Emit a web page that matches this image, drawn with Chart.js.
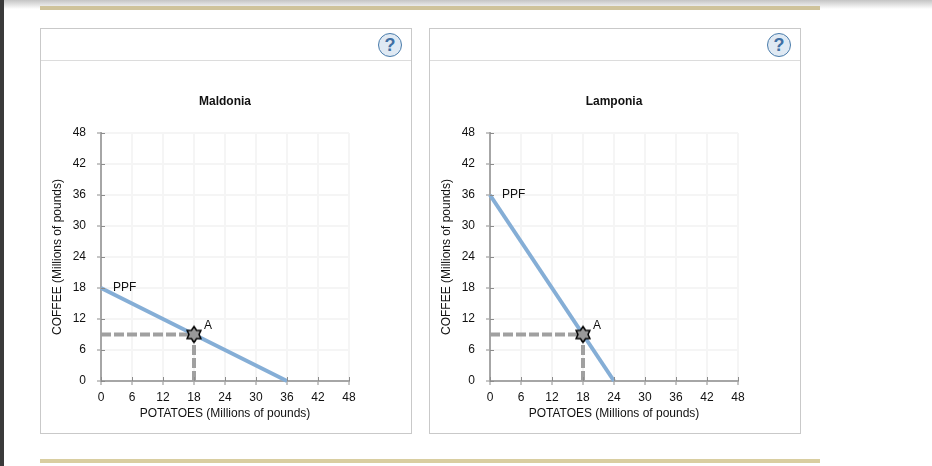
<!DOCTYPE html>
<html>
<head>
<meta charset="utf-8">
<title>PPF</title>
<script src="https://cdn.jsdelivr.net/npm/chart.js@4/dist/chart.umd.min.js"></script>
<style>
  html, body { margin: 0; padding: 0; background: #fff; width: 932px; height: 466px; overflow: hidden; font-family: "Liberation Sans", Arial, sans-serif; }
  .shade { position: absolute; left: 0; top: 0; width: 932px; height: 9px; background: linear-gradient(#c4c4c4, #fff); }
  .edge { position: absolute; left: 0; top: 0; width: 4px; height: 466px; background: #3a3a3a; }
  .rule { position: absolute; left: 40px; width: 780px; height: 4px; }
  .panel { position: absolute; top: 28px; width: 370px; height: 404px; border: 1px solid #c9c9c9; box-sizing: content-box; }
  .head { position: absolute; left: 0; top: 0; width: 370px; height: 31px; border-bottom: 1px solid #dcdcdc; }
  .help { position: absolute; left: 337px; top: 4px; width: 22px; height: 22px; border: 1px solid #4a7cab; border-radius: 50%; background: #dfe9f3; color: #3f6fa3; font: bold 18px/22px "Liberation Sans", Arial, sans-serif; text-align: center; }
  .panel canvas { position: absolute; left: 0; top: 32px; }
</style>
</head>
<body>
<div class="shade"></div>
<div class="edge"></div>
<div class="rule" style="top:6px;background:#cfc39b"></div>
<div class="rule" style="top:459px;background:#d9cea1"></div>

<div class="panel" style="left:40px">
  <div class="head"><div class="help">?</div></div>
  <canvas id="maldonia" width="370" height="372"></canvas>
</div>
<div class="panel" style="left:429px">
  <div class="head"><div class="help">?</div></div>
  <canvas id="lamponia" width="370" height="372"></canvas>
</div>

<script>
const axisTicks = [0, 6, 12, 18, 24, 30, 36, 42, 48];
const xTitle = 'POTATOES (Millions of pounds)';
const yTitle = 'COFFEE (Millions of pounds)';

const maldoniaPPF = [{ x: 0, y: 18 }, { x: 36, y: 0 }];
const lamponiaPPF = [{ x: 0, y: 36 }, { x: 24, y: 0 }];
const pointA = [{ x: 18, y: 9 }];
const dashToY = [{ x: 0, y: 9 }, { x: 18, y: 9 }];
const dashToX = [{ x: 18, y: 0 }, { x: 18, y: 9 }];

const fontFamily = '"Liberation Sans", Arial, sans-serif';
const axisGray = '#a6a6a6';

// six pointed star, chart.js has no filled one
function makeStar() {
  const c = document.createElement('canvas');
  c.width = 22;
  c.height = 22;
  const g = c.getContext('2d');
  g.beginPath();
  for (let i = 0; i < 12; i++) {
    const r = i % 2 ? 5 : 8;
    const a = i * Math.PI / 6 - Math.PI / 2;
    const px = 11 + r * Math.cos(a);
    const py = 11 + r * Math.sin(a);
    if (i === 0) g.moveTo(px, py); else g.lineTo(px, py);
  }
  g.closePath();
  g.fillStyle = '#999999';
  g.fill();
  g.lineWidth = 1.5;
  g.strokeStyle = '#000';
  g.stroke();
  return c;
}

// ticks cross the axis line, so draw the inner half too
const innerTicks = {
  id: 'innerTicks',
  afterDatasetsDraw(chart) {
    const { ctx, chartArea, scales } = chart;
    ctx.save();
    ctx.strokeStyle = '#8c8c8c';
    ctx.lineWidth = 1;
    axisTicks.forEach(v => {
      const px = Math.round(scales.x.getPixelForValue(v)) + 0.5;
      const py = Math.round(scales.y.getPixelForValue(v)) + 0.5;
      ctx.beginPath();
      ctx.moveTo(px, chartArea.bottom);
      ctx.lineTo(px, chartArea.bottom - 4);
      ctx.moveTo(chartArea.left, py);
      ctx.lineTo(chartArea.left + 4, py);
      ctx.stroke();
    });
    ctx.restore();
  }
};

// text next to the first point of a dataset
const markLabels = {
  id: 'markLabels',
  afterDatasetsDraw(chart) {
    const ctx = chart.ctx;
    ctx.save();
    ctx.font = '12px ' + fontFamily;
    ctx.fillStyle = '#111';
    ctx.textBaseline = 'middle';
    chart.data.datasets.forEach((ds, i) => {
      if (!ds.markText) return;
      const pt = chart.getDatasetMeta(i).data[0];
      ctx.fillText(ds.markText, pt.x + ds.markDx, pt.y + ds.markDy);
    });
    ctx.restore();
  }
};

function drawChart(id, title, ppf) {
  const axis = (text, isX) => ({
    type: 'linear',
    min: 0,
    max: 48,
    afterBuildTicks: s => { s.ticks = axisTicks.map(v => ({ value: v })); },
    afterFit: s => { if (isX) s.height = 40; else s.width = 60; },
    border: { color: axisGray, width: 2 },
    grid: { color: '#f5f5f5', lineWidth: 2, tickColor: '#8c8c8c', tickWidth: 1, tickLength: 4 },
    ticks: {
      color: '#111',
      font: { family: fontFamily, size: 12 },
      padding: isX ? 5 : 11,
      maxRotation: 0,
      autoSkip: false
    },
    title: {
      display: true,
      text: text,
      color: '#111',
      font: { family: fontFamily, size: 12 },
      padding: { top: isX ? 1 : 9, bottom: 0 }
    }
  });

  return new Chart(document.getElementById(id), {
    type: 'scatter',
    data: {
      datasets: [
        {
          data: pointA,
          pointStyle: makeStar(),
          pointRadius: 8,
          clip: false,
          markText: 'A', markDx: 10, markDy: -9
        },
        {
          data: ppf,
          showLine: true,
          borderColor: '#85aed6',
          borderWidth: 4,
          pointRadius: 0,
          clip: false,
          markText: 'PPF', markDx: 12, markDy: 0
        },
        { data: dashToY, showLine: true, borderColor: '#a0a0a0', borderWidth: 4, borderDash: [10, 3], pointRadius: 0, clip: false },
        { data: dashToX, showLine: true, borderColor: '#a0a0a0', borderWidth: 4, borderDash: [10, 3], pointRadius: 0, clip: false }
      ]
    },
    options: {
      responsive: false,
      animation: false,
      events: [],
      layout: { padding: { left: 0, top: 0, right: 62, bottom: 12 } },
      plugins: {
        legend: { display: false },
        tooltip: { enabled: false },
        title: {
          display: true,
          fullSize: false,
          text: title,
          color: '#111',
          font: { family: fontFamily, size: 12, weight: 'bold' },
          padding: { top: 33, bottom: 24.6 }
        }
      },
      scales: { x: axis(xTitle, true), y: axis(yTitle, false) }
    },
    plugins: [innerTicks, markLabels]
  });
}

const charts = [
  drawChart('maldonia', 'Maldonia', maldoniaPPF),
  drawChart('lamponia', 'Lamponia', lamponiaPPF)
];
</script>
</body>
</html>
